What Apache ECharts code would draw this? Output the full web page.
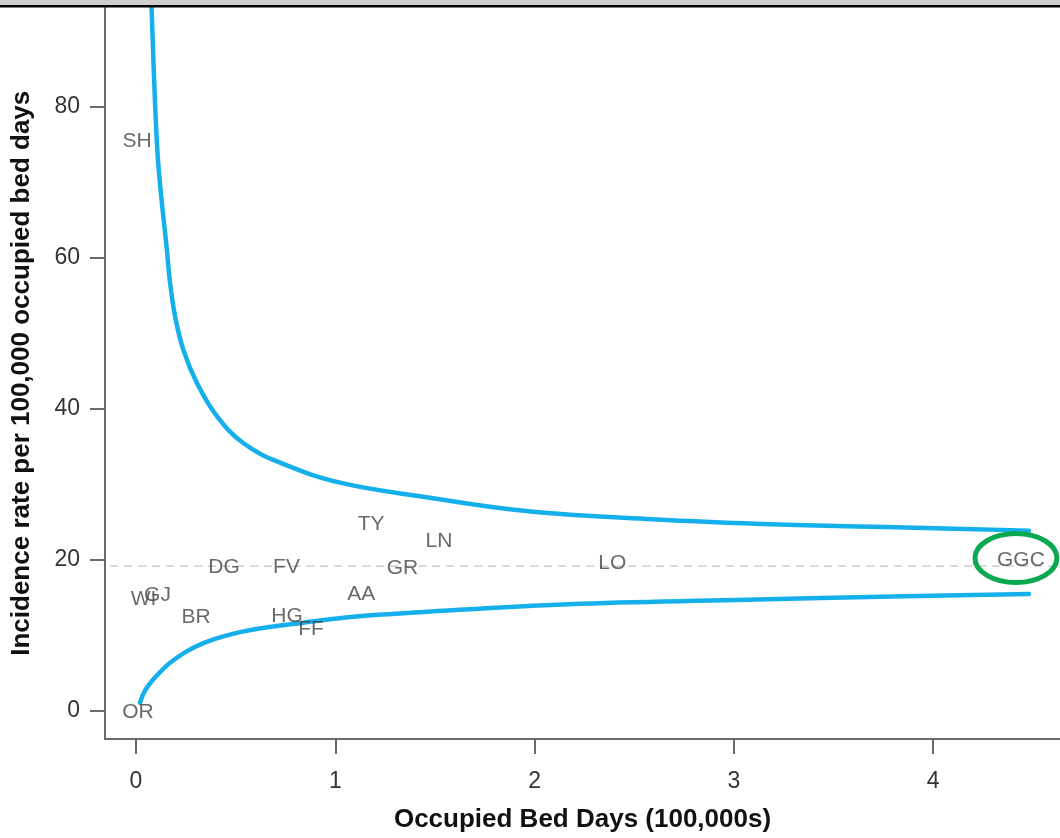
<!DOCTYPE html>
<html>
<head>
<meta charset="utf-8">
<script src="https://cdn.jsdelivr.net/npm/echarts@6/dist/echarts.min.js"></script>
<style>
html,body{margin:0;padding:0;background:#fff;}
#main{width:1060px;height:838px;}
</style>
</head>
<body>
<div id="main"></div>
<script>
// ---- data ----
const xTicks = [0, 1, 2, 3, 4];
const yTicks = [0, 20, 40, 60, 80];

const boardNames = ['SH', 'OR', 'WI', 'GJ', 'BR', 'DG', 'FV', 'HG', 'FF', 'AA', 'TY', 'GR', 'LN', 'LO', 'GGC'];
const bedDays    = [0.005, 0.01, 0.038, 0.108, 0.301, 0.442, 0.755, 0.758, 0.878, 1.13, 1.18, 1.337, 1.52, 2.39, 4.44];
const rates      = [75.5, -0.2, 14.8, 15.3, 12.4, 19.1, 19.1, 12.6, 10.8, 15.5, 24.7, 18.9, 22.55, 19.6, 20.0];

const upperX = [0.078, 0.095, 0.107, 0.12, 0.137, 0.155, 0.171, 0.196, 0.237, 0.305, 0.405, 0.538, 0.723, 1.024, 1.44, 1.957, 2.59, 3.23, 3.86, 4.48];
const upperY = [93.2, 80.9, 74.3, 70.0, 65.5, 61.1, 56.7, 52.3, 47.9, 43.5, 39.1, 35.5, 32.9, 30.25, 28.4, 26.5, 25.4, 24.7, 24.3, 23.9];

const lowerX = [0.02, 0.045, 0.087, 0.13, 0.171, 0.254, 0.338, 0.447, 0.589, 0.84, 1.09, 1.425, 2.17, 3.01, 3.86, 4.48];
const lowerY = [1.1, 2.7, 4.2, 5.4, 6.4, 7.9, 9.0, 9.95, 10.8, 11.7, 12.5, 13.1, 14.15, 14.7, 15.2, 15.5];

const meanRate = 19.2;
const meanSpan = [-0.13, 4.6];

const highlighted = 'GGC';

// ---- chart ----
const FONT = "'Liberation Sans', Arial, Helvetica, sans-serif";
const chart = echarts.init(document.getElementById('main'), null, {renderer: 'canvas'});

const zip = (xs, ys) => xs.map((x, i) => [x, ys[i]]);

const curveStyle = {color: '#15b0ec', width: 4.5, cap: 'round', join: 'round'};

const topBand = [
  {type: 'rect', shape: {x: 0, y: 0, width: 1060, height: 5}, style: {fill: '#d0cdcd'}, z: 100},
  {type: 'rect', shape: {x: 0, y: 5, width: 1060, height: 2.6}, style: {fill: '#050505'}, z: 100}
];

const option = {
  animation: false,
  backgroundColor: '#ffffff',
  grid: {left: 105, right: 0, top: 7.5, bottom: 98, containLabel: false},
  xAxis: {
    type: 'value',
    min: -0.1555, max: 4.636,
    name: 'Occupied Bed Days (100,000s)',
    nameLocation: 'middle',
    nameGap: 68,
    nameTextStyle: {fontFamily: FONT, fontWeight: 'bold', fontSize: 26, color: '#111'},
    axisLine: {show: true, onZero: false, lineStyle: {color: '#6a6a6a', width: 2}},
    axisTick: {show: true, inside: false, length: 15, customValues: xTicks, lineStyle: {color: '#6a6a6a', width: 2}},
    axisLabel: {customValues: xTicks, margin: 31, fontFamily: FONT, fontSize: 23, color: '#333',
      formatter: v => String(v)},
    splitLine: {show: false}
  },
  yAxis: {
    type: 'value',
    min: -3.7, max: 93.19,
    name: 'Incidence rate per 100,000 occupied bed days',
    nameLocation: 'middle',
    nameGap: 70,
    nameTextStyle: {fontFamily: FONT, fontWeight: 'bold', fontSize: 26, color: '#111'},
    axisLine: {show: true, onZero: false, lineStyle: {color: '#6a6a6a', width: 2}},
    axisTick: {show: true, inside: false, length: 15, customValues: yTicks, lineStyle: {color: '#6a6a6a', width: 2}},
    axisLabel: {customValues: yTicks, margin: 25, fontFamily: FONT, fontSize: 23, color: '#333',
      formatter: v => String(v)},
    splitLine: {show: false}
  },
  series: [
    {
      name: 'mean', type: 'line', data: meanSpan.map(x => [x, meanRate]),
      showSymbol: false, symbol: 'none', silent: true, z: 1,
      lineStyle: {color: '#c4c4c4', width: 1.3, type: [8, 6]}
    },
    {
      name: 'upper', type: 'line', data: zip(upperX, upperY),
      showSymbol: false, symbol: 'none', smooth: 0.4, z: 2,
      lineStyle: curveStyle
    },
    {
      name: 'lower', type: 'line', data: zip(lowerX, lowerY),
      showSymbol: false, symbol: 'none', smooth: 0.4, z: 2,
      lineStyle: curveStyle
    },
    {
      name: 'boards', type: 'scatter', z: 5,
      symbolSize: 0,
      data: boardNames.map((n, i) => ({name: n, value: [bedDays[i], rates[i]]})),
      label: {
        show: true, position: 'inside', formatter: p => p.name,
        fontFamily: FONT, fontSize: 21, color: '#444'
      }
    }
  ],
  graphic: topBand
};
chart.setOption(option);

// highlight ellipse around the GGC label, positioned from its data point
const gi = boardNames.indexOf(highlighted);
const gp = chart.convertToPixel({gridIndex: 0}, [bedDays[gi], rates[gi]]);
chart.setOption({
  graphic: topBand.concat([
    {type: 'ellipse', shape: {cx: gp[0] - 5, cy: gp[1] - 2, rx: 41, ry: 24.5},
     style: {fill: null, stroke: '#0aa84f', lineWidth: 5}, z: 50}
  ])
});
</script>
</body>
</html>
